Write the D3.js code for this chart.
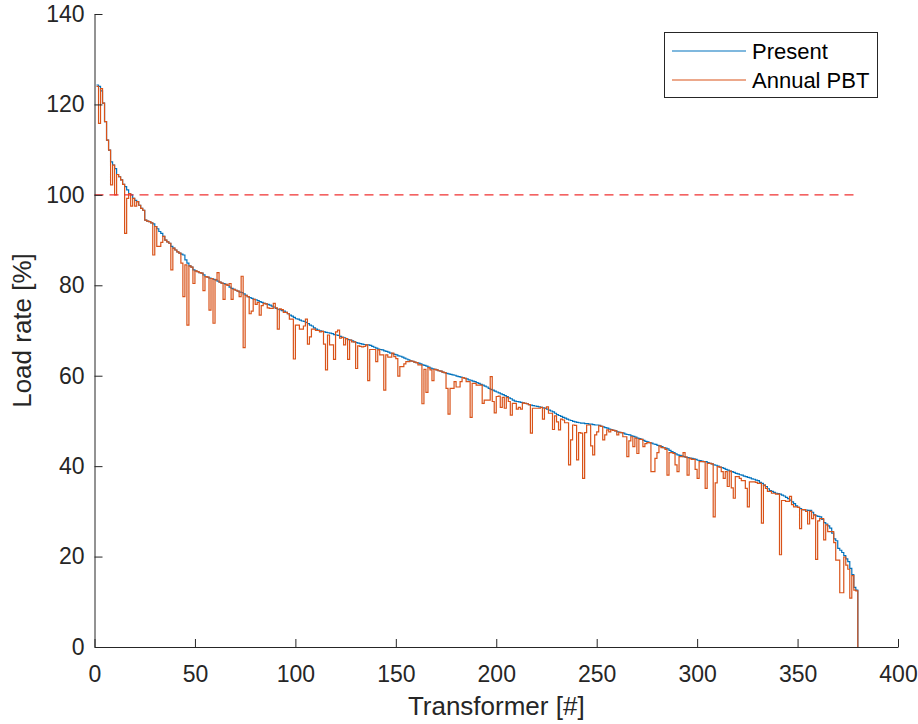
<!DOCTYPE html>
<html>
<head>
<meta charset="utf-8">
<script src="https://cdn.jsdelivr.net/npm/d3@7"></script>
<style>
  html, body { margin: 0; padding: 0; background: #ffffff; }
  svg { display: block; font-family: "Liberation Sans", Arial, Helvetica, sans-serif; }
</style>
</head>
<body>
<svg id="chart" width="918" height="724"></svg>
<script>
// Load rate per transformer (sorted by present load), index 1..380
const presentLoad = [
  124.3, 124.0, 123.0, 120.3, 116.2, 112.1, 109.9, 107.3, 106.6, 105.8,
  104.5, 104.0, 103.3, 102.3, 101.8, 101.1, 100.3, 100.0, 99.2, 98.8,
  98.5, 97.7, 97.0, 96.6, 94.4, 94.2, 94.1, 93.8, 93.6, 93.0,
  92.5, 91.9, 91.5, 90.8, 90.0, 89.6, 89.3, 88.6, 88.2, 87.8,
  87.4, 87.1, 86.9, 86.7, 85.6, 84.9, 84.3, 84.0, 83.4, 83.2,
  83.0, 82.8, 82.7, 82.3, 81.9, 81.8, 81.6, 81.5, 81.3, 81.2,
  80.9, 80.7, 80.5, 80.4, 80.2, 80.0, 79.6, 79.3, 79.1, 78.9,
  78.7, 78.5, 78.4, 78.1, 77.8, 77.5, 77.3, 77.1, 76.9, 76.8,
  76.6, 76.4, 76.2, 76.0, 75.9, 75.8, 75.6, 75.4, 75.2, 74.9,
  74.7, 74.6, 74.4, 74.3, 74.0, 73.7, 73.4, 73.2, 72.9, 72.6,
  72.5, 72.3, 72.1, 72.0, 71.8, 71.5, 71.2, 71.0, 70.6, 70.3,
  70.1, 69.9, 69.8, 69.7, 69.6, 69.5, 69.4, 69.3, 69.1, 69.0,
  68.9, 68.7, 68.5, 68.4, 68.2, 68.0, 67.9, 67.7, 67.5, 67.3,
  67.2, 67.1, 67.0, 66.9, 66.8, 66.8, 66.7, 66.5, 66.3, 66.1,
  65.9, 65.8, 65.7, 65.5, 65.4, 65.2, 65.0, 64.9, 64.7, 64.6,
  64.4, 64.3, 64.1, 63.9, 63.7, 63.5, 63.3, 63.2, 63.0, 62.9,
  62.8, 62.6, 62.4, 62.3, 62.1, 61.9, 61.7, 61.5, 61.4, 61.3,
  61.1, 61.0, 60.8, 60.7, 60.5, 60.4, 60.3, 60.2, 60.1, 59.9,
  59.8, 59.7, 59.6, 59.4, 59.3, 59.1, 59.0, 58.8, 58.7, 58.5,
  58.3, 58.1, 57.9, 57.7, 57.5, 57.2, 57.0, 56.8, 56.6, 56.4,
  56.2, 56.0, 55.8, 55.6, 55.4, 55.1, 54.9, 54.6, 54.4, 54.3,
  54.2, 54.1, 54.0, 53.9, 53.8, 53.6, 53.5, 53.4, 53.3, 53.2,
  53.1, 53.0, 52.9, 52.8, 52.6, 52.4, 52.2, 52.0, 51.7, 51.4,
  51.2, 51.0, 50.8, 50.6, 50.4, 50.2, 50.1, 49.9, 49.8, 49.7,
  49.6, 49.5, 49.5, 49.4, 49.4, 49.3, 49.3, 49.2, 49.1, 49.1,
  49.0, 48.8, 48.7, 48.5, 48.4, 48.2, 48.1, 47.9, 47.8, 47.6,
  47.5, 47.4, 47.3, 47.1, 47.0, 46.9, 46.7, 46.6, 46.4, 46.2,
  46.1, 45.9, 45.7, 45.5, 45.4, 45.2, 45.1, 44.9, 44.8, 44.6,
  44.5, 44.3, 44.1, 44.0, 43.8, 43.5, 43.2, 43.0, 42.7, 42.5,
  42.4, 42.3, 42.1, 42.0, 41.9, 41.8, 41.7, 41.6, 41.5, 41.3,
  41.2, 41.1, 41.0, 41.0, 40.8, 40.6, 40.5, 40.3, 40.2, 40.0,
  39.8, 39.7, 39.5, 39.3, 39.1, 38.9, 38.8, 38.6, 38.4, 38.3,
  38.1, 38.0, 37.8, 37.7, 37.5, 37.4, 37.2, 37.1, 36.9, 36.8,
  36.4, 36.2, 35.8, 35.5, 35.0, 34.6, 34.4, 34.2, 34.0, 33.9,
  33.8, 33.6, 33.4, 33.1, 32.8, 32.5, 32.1, 31.7, 31.2, 30.9,
  30.6, 30.4, 30.3, 30.3, 30.2, 30.2, 29.8, 29.2, 29.0, 28.9,
  28.8, 28.2, 27.5, 27.2, 26.8, 26.3, 25.2, 23.9, 23.5, 21.8,
  21.4, 20.9, 20.2, 19.5, 18.9, 17.4, 16.0, 13.2, 12.6, 0
];

const pbtLoad = [
  124.0, 115.8, 123.5, 120.3, 116.2, 112.1, 109.9, 102.2, 106.6, 100.0,
  104.5, 104.0, 103.3, 102.3, 91.5, 99.2, 100.3, 97.5, 99.2, 97.5,
  98.5, 97.7, 97.0, 96.6, 94.4, 94.2, 94.1, 93.8, 86.7, 93.0,
  88.6, 88.6, 89.5, 90.8, 90.0, 89.6, 89.3, 83.4, 88.2, 87.8,
  87.4, 87.1, 84.9, 77.5, 84.5, 71.2, 84.3, 84.0, 80.4, 83.2,
  83.0, 82.8, 82.7, 78.8, 81.9, 81.8, 74.5, 81.5, 71.6, 81.2,
  82.8, 80.7, 80.5, 76.9, 80.2, 80.0, 80.4, 76.9, 79.1, 78.9,
  78.7, 77.5, 82.0, 66.2, 77.8, 77.5, 73.7, 74.3, 76.9, 75.8,
  76.2, 73.4, 75.5, 76.0, 75.9, 75.0, 74.9, 74.9, 76.0, 75.0,
  70.3, 74.8, 74.6, 74.0, 74.0, 73.7, 72.5, 72.5, 63.7, 71.2,
  71.2, 70.3, 70.3, 71.0, 72.5, 67.0, 68.6, 70.3, 70.3, 70.0,
  70.0, 69.7, 69.8, 67.0, 61.3, 69.0, 66.8, 66.8, 63.6, 69.7,
  70.1, 68.3, 68.5, 66.8, 68.2, 63.6, 67.9, 67.5, 67.5, 61.6,
  66.6, 66.5, 66.4, 66.5, 66.8, 58.9, 65.8, 65.8, 65.8, 63.1,
  65.7, 64.6, 64.6, 56.8, 64.6, 64.1, 64.1, 65.0, 64.2, 63.8,
  59.9, 62.0, 62.0, 62.6, 63.1, 63.1, 63.3, 63.2, 63.0, 62.9,
  62.4, 62.4, 53.8, 61.4, 56.3, 61.8, 61.3, 58.9, 61.4, 61.3,
  61.1, 61.0, 60.8, 60.7, 57.2, 51.5, 57.2, 57.2, 58.7, 57.5,
  57.5, 58.7, 59.6, 59.4, 58.7, 58.7, 50.8, 58.3, 58.3, 57.9,
  57.9, 57.9, 53.9, 54.6, 54.6, 54.6, 59.8, 54.3, 51.8, 55.4,
  55.5, 53.0, 55.2, 52.8, 55.2, 54.3, 51.3, 53.9, 53.9, 52.6,
  53.0, 52.6, 54.0, 53.9, 53.8, 53.6, 47.3, 52.8, 52.8, 52.8,
  52.8, 53.0, 50.4, 52.8, 53.1, 51.7, 51.7, 48.1, 51.1, 49.8,
  48.0, 50.4, 50.2, 49.6, 49.6, 40.3, 45.8, 49.1, 49.0, 41.4,
  47.4, 47.3, 37.3, 47.4, 49.1, 49.1, 44.5, 42.5, 46.9, 47.6,
  48.9, 48.8, 45.8, 46.9, 48.0, 47.6, 48.0, 47.9, 47.8, 46.9,
  47.5, 47.4, 46.5, 46.5, 42.1, 45.6, 46.5, 44.3, 46.2, 42.8,
  45.9, 45.9, 44.3, 45.0, 45.2, 45.2, 38.8, 38.8, 41.7, 43.0,
  44.5, 44.1, 44.1, 43.7, 38.0, 43.0, 43.0, 42.8, 40.3, 38.8,
  42.1, 42.1, 43.0, 42.0, 38.0, 41.7, 41.5, 41.5, 39.3, 37.3,
  41.0, 41.0, 41.0, 35.1, 40.6, 40.6, 40.5, 28.8, 36.3, 39.9,
  39.8, 38.8, 37.3, 38.8, 35.5, 38.9, 35.2, 32.9, 37.7, 37.7,
  37.3, 36.8, 36.8, 35.1, 31.0, 36.5, 36.5, 36.5, 36.4, 36.2,
  36.2, 27.4, 35.8, 35.1, 34.4, 34.4, 34.0, 34.0, 33.8, 33.8,
  20.4, 32.4, 32.4, 32.2, 32.2, 33.3, 31.5, 31.0, 31.0, 30.9,
  26.2, 30.4, 30.4, 30.0, 27.2, 30.0, 28.4, 29.2, 19.4, 27.9,
  28.4, 28.4, 23.7, 27.0, 25.5, 25.5, 25.5, 23.1, 19.2, 19.2,
  12.0, 12.0, 19.9, 18.1, 17.2, 10.8, 15.8, 12.6, 12.4, 0
];

const seriesNames = ["Present", "Annual PBT"];
const seriesColors = ["#0072BD", "#D95319"];
const thresholdLoad = 100;
const xTicks = [0, 50, 100, 150, 200, 250, 300, 350, 400];
const yTicks = [0, 20, 40, 60, 80, 100, 120, 140];
const xLabel = "Transformer [#]";
const yLabel = "Load rate [%]";

const svg = d3.select("#chart");
const axisColor = "#262626";
const plot = { left: 94.5, right: 898, top: 14, bottom: 647 };

const x = d3.scaleLinear().domain([0, 400]).range([plot.left, plot.right]);
const y = d3.scaleLinear().domain([0, 140]).range([plot.bottom, plot.top]);

// Stair-step lines, one step per transformer
const stairs = d3.line()
  .x((d, i) => x(i + 1))
  .y(d => y(d))
  .curve(d3.curveStepAfter);

const lines = svg.append("g");
[presentLoad, pbtLoad].forEach((series, k) => {
  lines.append("path")
    .datum(series)
    .attr("d", stairs)
    .attr("fill", "none")
    .attr("stroke", seriesColors[k])
    .attr("stroke-width", 1.2)
    .attr("stroke-linejoin", "miter");
});

// 100 % loading limit
svg.append("line")
  .attr("x1", x(0)).attr("x2", x(presentLoad.length))
  .attr("y1", y(thresholdLoad)).attr("y2", y(thresholdLoad))
  .attr("stroke", "#f03030")
  .attr("stroke-width", 1.4)
  .attr("stroke-dasharray", "9,6");

// Axes with inward ticks
const xAxis = d3.axisBottom(x).tickValues(xTicks).tickSize(-8).tickSizeOuter(0).tickPadding(19);
const yAxis = d3.axisLeft(y).tickValues(yTicks).tickSize(-8).tickSizeOuter(0).tickPadding(10);

const gx = svg.append("g").attr("transform", `translate(0,${plot.bottom})`).call(xAxis);
const gy = svg.append("g").attr("transform", `translate(${plot.left},0)`).call(yAxis);

[gx, gy].forEach(g => {
  g.select(".domain").attr("stroke", axisColor).attr("stroke-width", 1);
  g.selectAll(".tick line").attr("stroke", axisColor).attr("stroke-width", 1);
  g.selectAll(".tick text")
    .attr("fill", axisColor)
    .style("font-size", "23px")
    .style("font-family", "'Liberation Sans', Arial, Helvetica, sans-serif");
});

// Axis titles
svg.append("text")
  .attr("x", (plot.left + plot.right) / 2)
  .attr("y", 715)
  .attr("text-anchor", "middle")
  .attr("fill", axisColor)
  .style("font-size", "26px")
  .text(xLabel);

svg.append("text")
  .attr("transform", `translate(31,${(plot.top + plot.bottom) / 2}) rotate(-90)`)
  .attr("text-anchor", "middle")
  .attr("fill", axisColor)
  .style("font-size", "26px")
  .text(yLabel);

// Legend
const legend = svg.append("g");
legend.append("rect")
  .attr("x", 664.5).attr("y", 32.5)
  .attr("width", 213).attr("height", 65)
  .attr("fill", "#ffffff")
  .attr("stroke", axisColor)
  .attr("stroke-width", 1);

seriesNames.forEach((name, k) => {
  const ly = 51 + k * 29;
  legend.append("line")
    .attr("x1", 672).attr("x2", 746)
    .attr("y1", ly).attr("y2", ly)
    .attr("stroke", seriesColors[k])
    .attr("stroke-width", 1.2);
  legend.append("text")
    .attr("x", 752).attr("y", ly + 8)
    .attr("fill", "#000000")
    .style("font-size", "22px")
    .text(name);
});
</script>
</body>
</html>
